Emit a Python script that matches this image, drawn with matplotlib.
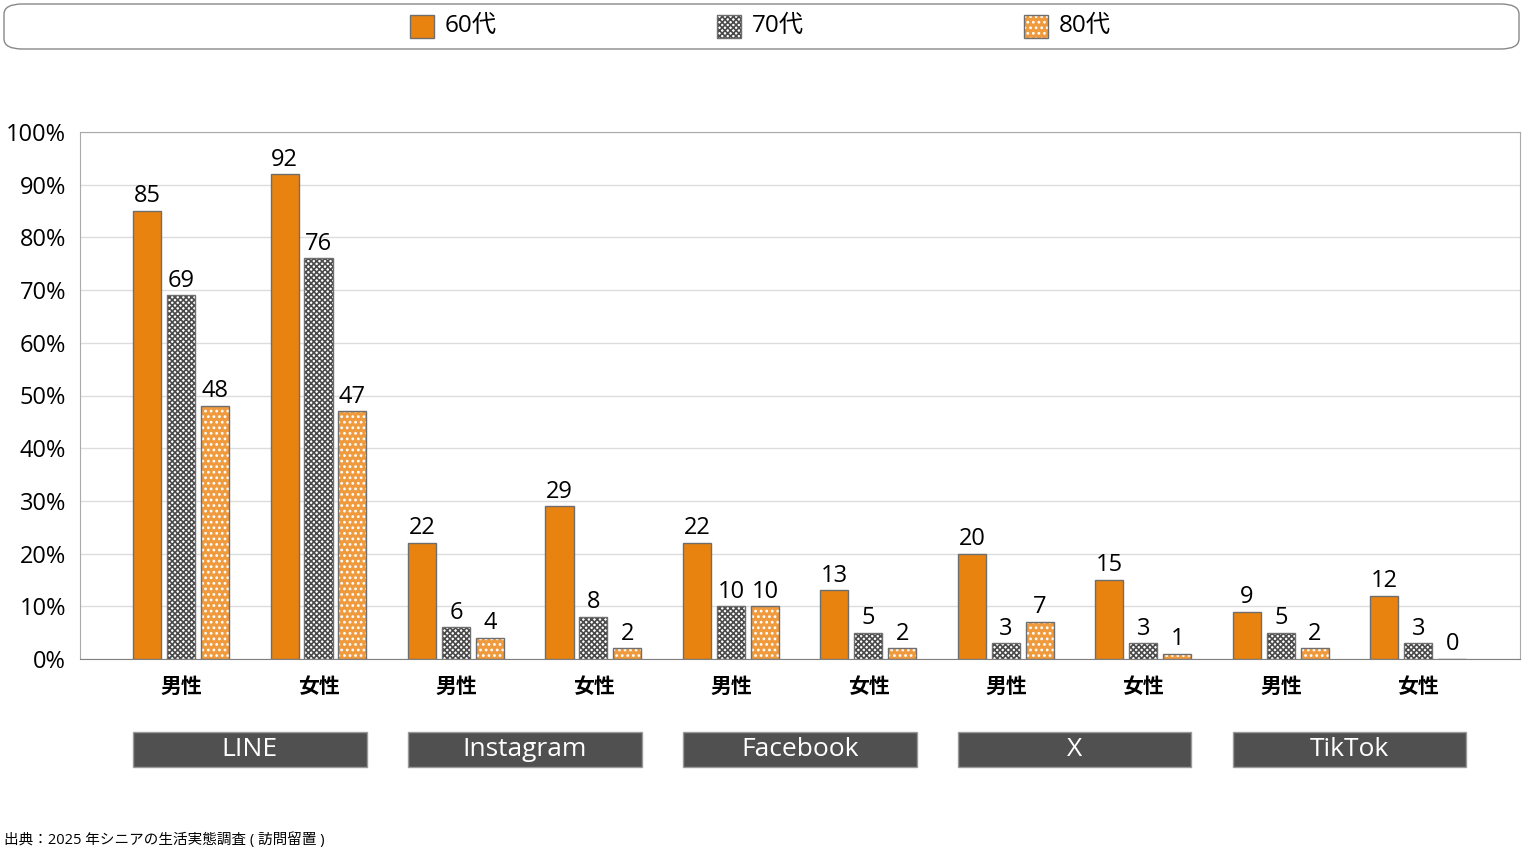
"""SNS usage by age group and gender (senior survey 2025)."""

import matplotlib
matplotlib.use("Agg")
import matplotlib.pyplot as plt
from matplotlib.patches import FancyBboxPatch, Rectangle
import numpy as np

plt.rcParams["font.family"] = ["Open Sans", "Noto Sans CJK JP", "DejaVu Sans"]

# ── Data ───────────────────────────────────────────────────────────────────
platforms = ["LINE", "Instagram", "Facebook", "X", "TikTok"]
genders = ["男性", "女性"]
series_names = ["60代", "70代", "80代"]
age60 = [85, 92, 22, 29, 22, 13, 20, 15, 9, 12]
age70 = [69, 76, 6, 8, 10, 5, 3, 3, 5, 3]
age80 = [48, 47, 4, 2, 10, 2, 7, 1, 2, 0]
y_ticks = [0, 10, 20, 30, 40, 50, 60, 70, 80, 90, 100]
source_text = "出典：2025 年シニアの生活実態調査 ( 訪問留置 )"

# ── Styles ─────────────────────────────────────────────────────────────────
ORANGE = "#E8830F"
ORANGE_LIGHT = "#F09A3E"
EDGE = "#6E6E6E"
styles = [
    {"face": ORANGE, "hatch": None, "hcolor": ORANGE},
    {"face": "white", "hatch": "xxxxxx", "hcolor": "#4A4A4A"},
    {"face": ORANGE_LIGHT, "hatch": "...", "hcolor": "white"},
]

W, H = 1524, 851
fig = plt.figure(figsize=(W / 100, H / 100), dpi=100)
ax = fig.add_axes([80 / W, 1 - 659 / H, 1440 / W, (659 - 132) / H])

n_groups = len(age60)
x = np.arange(n_groups)
bar_w = 0.204
offset = 0.247
plt.rcParams["hatch.linewidth"] = 1.2

for i, (vals, st) in enumerate(zip([age60, age70, age80], styles)):
    xs = x + (i - 1) * offset
    ax.bar(xs, vals, bar_w, color=st["face"], edgecolor=st["hcolor"],
           hatch=st["hatch"], linewidth=0, zorder=3)
    ax.bar(xs, vals, bar_w, facecolor="none", edgecolor=EDGE,
           linewidth=1.0, zorder=4)
    for xv, v in zip(xs, vals):
        ax.text(xv, v + 0.5, f"{v}", ha="center", va="bottom",
                fontsize=17, color="black", zorder=5)

ax.set_xlim(-0.735, 9.74)
ax.set_ylim(0, 100)
ax.set_yticks(y_ticks)
ax.set_yticklabels([f"{t}%" for t in y_ticks], fontsize=17)
ax.yaxis.grid(True, color="#DDDDDD", linewidth=1, zorder=0)
ax.set_axisbelow(True)
ax.tick_params(axis="y", length=0, pad=10)
ax.set_xticks([])
for side in ["left", "top", "right"]:
    ax.spines[side].set_color("#AAAAAA")
ax.spines["bottom"].set_color("#808080")

# Gender labels under each group
for gi in range(n_groups):
    ax.text(x[gi], -3.3, genders[gi % 2], ha="center", va="top",
            fontsize=15, fontweight="bold", family=["Noto Sans CJK JP"],
            clip_on=False)

# Platform boxes
trans = ax.get_xaxis_transform()
for pi, name in enumerate(platforms):
    cx = 2 * pi + 0.5
    bw = 1.70
    y0 = -(767 - 659) / (659 - 132)
    hh = (767 - 732) / (659 - 132)
    ax.add_patch(Rectangle((cx - bw / 2, y0), bw, hh, transform=trans,
                           facecolor="#505050", edgecolor="#9A9A9A",
                           linewidth=1, clip_on=False))
    ax.text(cx, y0 + hh / 2, name, transform=trans, ha="center",
            va="center", fontsize=19, color="white", clip_on=False)

# Legend box
fig.patches.append(FancyBboxPatch((4 / W, 1 - 49 / H), 1515 / W, 45 / H,
                                  boxstyle="round,pad=0,rounding_size=0.012",
                                  transform=fig.transFigure,
                                  facecolor="white", edgecolor="#888888",
                                  linewidth=1))
leg_x = [410, 717, 1024]
for lx, name, st in zip(leg_x, series_names, styles):
    fig.patches.append(Rectangle((lx / W, 1 - 38 / H), 24 / W, 23 / H,
                                 transform=fig.transFigure,
                                 facecolor=st["face"], edgecolor=st["hcolor"],
                                 hatch=st["hatch"], linewidth=0))
    fig.patches.append(Rectangle((lx / W, 1 - 38 / H), 24 / W, 23 / H,
                                 transform=fig.transFigure,
                                 facecolor="none", edgecolor=EDGE,
                                 linewidth=1))
    fig.text((lx + 35) / W, 1 - 26 / H, name, ha="left", va="center",
             fontsize=17.5)

fig.text(4 / W, 1 - 840 / H, source_text, ha="left", va="center",
         fontsize=10.5)

fig.savefig("out.png", dpi=100)
